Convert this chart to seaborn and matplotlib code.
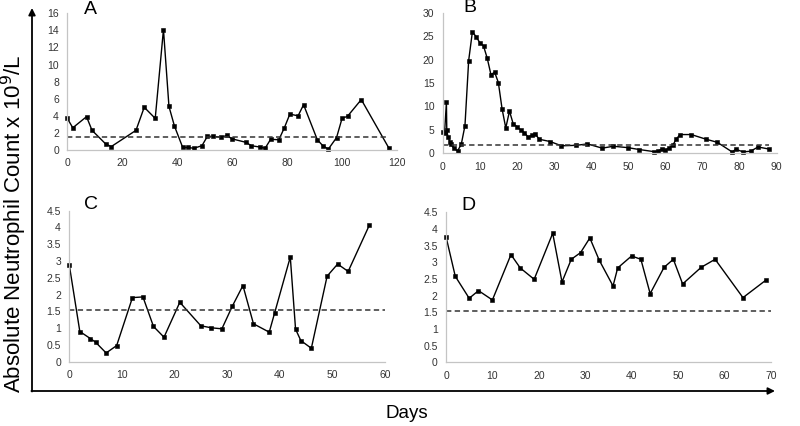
'''Absolute neutrophil count time course plot.

Four panels (A-D) with the neutrophil count of each patient over days,
with a dashed threshold line, and a shared arrow frame with labels.
'''

# -----------------------------------------------------------------------------
# Modules

from matplotlib import pyplot as plt  # type: ignore
from matplotlib.patches import FancyArrowPatch  # type: ignore
from matplotlib.ticker import FuncFormatter  # type: ignore
import numpy as np  # type: ignore
import pandas as pd  # type: ignore
import seaborn as sns  # type: ignore

# -----------------------------------------------------------------------------
# Data

days_a = [0, 2, 7, 9, 14, 16, 25, 28, 32, 35, 37, 39, 42, 44, 46, 49, 51, 53,
          56, 58, 60, 65, 67, 70, 72, 74, 77, 79, 81, 84, 86, 91, 93, 95, 98,
          100, 102, 107, 117]
anc_a = [3.7, 2.6, 3.9, 2.3, 0.7, 0.4, 2.3, 5.0, 3.7, 14.1, 5.1, 2.8, 0.3,
         0.3, 0.2, 0.5, 1.6, 1.6, 1.5, 1.7, 1.3, 0.9, 0.5, 0.35, 0.2, 1.25,
         1.2, 2.6, 4.2, 4.0, 5.3, 1.2, 0.5, 0.1, 1.45, 3.7, 3.95, 5.9, 0.25]

days_b = [0, 0.5, 1, 1.1, 1.4, 2, 2.2, 3, 4, 5, 6, 7, 8, 9, 10, 11, 12, 13,
          14, 15, 16, 17, 18, 19, 20, 21, 22, 23, 24, 25, 26, 29, 32, 36, 39,
          43, 46, 50, 53, 57, 58, 59, 60, 61, 62, 63, 64, 67, 71, 74, 78, 79,
          81, 83, 85, 88]
anc_b = [4.6, 4.3, 10.9, 5.0, 3.5, 2.4, 1.9, 1.1, 0.5, 1.9, 5.9, 19.8, 25.9,
         24.9, 23.6, 22.9, 20.3, 16.8, 17.3, 15.1, 9.5, 5.4, 9.0, 6.3, 5.7,
         5.0, 4.4, 3.5, 3.8, 4.1, 3.0, 2.5, 1.6, 1.7, 2.0, 1.1, 1.5, 1.2, 0.8,
         0.35, 0.45, 0.9, 0.65, 1.15, 1.7, 3.1, 4.0, 4.0, 3.0, 2.35, 0.3, 0.85,
         0.3, 0.45, 1.35, 0.9]

days_c = [0, 2, 4, 5, 7, 9, 12, 14, 16, 18, 21, 25, 27, 29, 31, 33, 35, 38,
          39, 42, 43, 44, 46, 49, 51, 53, 57]
anc_c = [2.88, 0.9, 0.69, 0.58, 0.26, 0.48, 1.91, 1.93, 1.05, 0.73, 1.77,
         1.07, 1.01, 0.98, 1.66, 2.27, 1.13, 0.88, 1.44, 3.12, 0.97, 0.63,
         0.40, 2.55, 2.91, 2.69, 4.06]

days_d = [0, 2, 5, 7, 10, 14, 16, 19, 23, 25, 27, 29, 31, 33, 36, 37, 40, 42,
          44, 47, 49, 51, 55, 58, 64, 69]
anc_d = [3.77, 2.58, 1.92, 2.15, 1.87, 3.23, 2.83, 2.49, 3.87, 2.41, 3.09,
         3.29, 3.73, 3.07, 2.29, 2.83, 3.19, 3.09, 2.06, 2.85, 3.09, 2.35,
         2.85, 3.09, 1.94, 2.47]

panel_labels = ['A', 'B', 'C', 'D']
thresholds = [1.55, 1.8, 1.53, 1.53]
threshold_ends = [116, 88, 60, 70]
x_limits = [120, 90, 60, 70]
x_steps = [20, 10, 10, 10]
y_limits = [16, 30, 4.5, 4.5]
y_steps = [2, 5, 0.5, 0.5]

# -----------------------------------------------------------------------------


def panel_plot(ax: plt.Axes, days: list, anc: list, idx: int) -> None:
    """Plots one panel of the figure.

    :param ax: axes where the panel is drawn.
    :param days: days of the measurements.
    :param anc: absolute neutrophil counts.
    :param idx: index of the panel (0 to 3).
    :return: None.
    """

    data: pd.DataFrame = pd.DataFrame({'day': days, 'anc': anc})

    sns.lineplot(data=data, x='day', y='anc', ax=ax, estimator=None,
                 sort=False, color='black', lw=1.0, marker='s',
                 markersize=3.0, markeredgewidth=0.4,
                 markeredgecolor='black', clip_on=False)

    ax.hlines(thresholds[idx], 0, threshold_ends[idx], colors='#333333',
              linestyles=(0, (3.5, 2.2)), lw=1.1)

    ax.set_xlim(0, x_limits[idx])
    ax.set_ylim(0, y_limits[idx])
    ax.set_xticks(np.arange(0, x_limits[idx] + 0.01, x_steps[idx]))
    ax.set_yticks(np.arange(0, y_limits[idx] + 0.01, y_steps[idx]))
    ax.yaxis.set_major_formatter(FuncFormatter(lambda v, p: f'{v:g}'))
    ax.set_xlabel('')
    ax.set_ylabel('')

    for side in ('top', 'right'):
        ax.spines[side].set_visible(False)
    for side in ('left', 'bottom'):
        ax.spines[side].set_color('#c4c4c4')
        ax.spines[side].set_linewidth(0.9)

    ax.tick_params(axis='both', direction='out', length=3, width=0.7,
                   color='#c4c4c4', labelsize=7.5, labelcolor='#333333',
                   pad=3)

# -----------------------------------------------------------------------------


def main() -> None:
    """The main function of the script.

    :return: None.
    """

    sns.set_style('white')
    plt.rcParams['font.family'] = ['Liberation Sans', 'DejaVu Sans']

    figure: plt.Figure = plt.figure(figsize=(8, 4.26), dpi=100)

    # Positions in pixels of each panel: left, top, right, bottom
    boxes = [(67.3, 13.3, 397.0, 150.0),
             (442.7, 12.7, 776.6, 153.3),
             (69.3, 210.7, 385.0, 361.7),
             (446.0, 212.3, 770.8, 362.3)]
    letters_xy = [(90, 10), (470, 8), (91, 205), (468, 206)]
    series = [(days_a, anc_a), (days_b, anc_b),
              (days_c, anc_c), (days_d, anc_d)]

    for idx, (box, (days, anc)) in enumerate(zip(boxes, series)):
        left, top, right, bottom = box
        ax = figure.add_axes([left / 800, 1 - bottom / 426,
                              (right - left) / 800, (bottom - top) / 426])
        panel_plot(ax, days, anc, idx)
        figure.text(letters_xy[idx][0] / 800, 1 - letters_xy[idx][1] / 426,
                    panel_labels[idx], fontsize=14, ha='center',
                    va='center', color='black')

    # Outer frame with arrows
    figure.add_artist(FancyArrowPatch(
        (32 / 800, 1 - 391.5 / 426), (32 / 800, 1 - 8 / 426),
        transform=figure.transFigure, arrowstyle='-|>', mutation_scale=10,
        color='black', lw=1.3, shrinkA=0, shrinkB=0))
    figure.add_artist(FancyArrowPatch(
        (31.4 / 800, 1 - 391 / 426), (775 / 800, 1 - 391 / 426),
        transform=figure.transFigure, arrowstyle='-|>', mutation_scale=10,
        color='black', lw=1.3, shrinkA=0, shrinkB=0))

    figure.text(14 / 800, 1 - 224 / 426,
                'Absolute Neutrophil Count x 10$^{9}$/L', rotation=90,
                fontsize=16, ha='center', va='center', color='black')
    figure.text(407 / 800, 1 - 413 / 426, 'Days', fontsize=13.5,
                ha='center', va='center', color='black')

    figure.savefig('out.png', dpi=100)
    plt.close()

# -----------------------------------------------------------------------------


if __name__ == "__main__":
    main()
